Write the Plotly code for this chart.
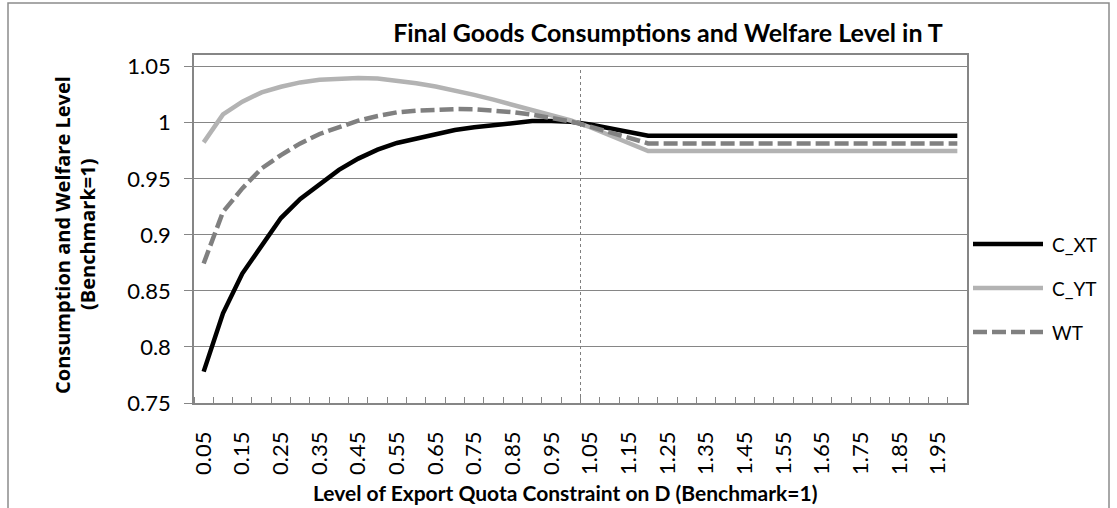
import plotly.graph_objects as go

# ---------------- data ----------------
x_vals = [0.05, 0.10, 0.15, 0.20, 0.25, 0.30, 0.35, 0.40, 0.45, 0.50,
          0.55, 0.60, 0.65, 0.70, 0.75, 0.80, 0.85, 0.90, 0.95, 1.00,
          1.05, 1.10, 1.15, 1.20, 1.25, 1.30, 1.35, 1.40, 1.45, 1.50,
          1.55, 1.60, 1.65, 1.70, 1.75, 1.80, 1.85, 1.90, 1.95, 2.00]

c_xt = [0.778, 0.830, 0.8655, 0.891, 0.915, 0.932, 0.945, 0.958, 0.968, 0.976,
        0.982, 0.986, 0.990, 0.9935, 0.996, 0.998, 1.0005, 1.0015, 1.0015, 1.0008,
        0.9985, 0.9951, 0.9917, 0.9884, 0.9884, 0.9884, 0.9884, 0.9884, 0.9884, 0.9884,
        0.9884, 0.9884, 0.9884, 0.9884, 0.9884, 0.9884, 0.9884, 0.9884, 0.9884, 0.9884]

c_yt = [0.9825, 1.0075, 1.0188, 1.0271, 1.0321, 1.036, 1.0384, 1.0396, 1.0400, 1.0395,
        1.0378, 1.0353, 1.0323, 1.0288, 1.0249, 1.0206, 1.0158, 1.011, 1.0065, 1.002,
        0.996, 0.9889, 0.9818, 0.9747, 0.9747, 0.9747, 0.9747, 0.9747, 0.9747, 0.9747,
        0.9747, 0.9747, 0.9747, 0.9747, 0.9747, 0.9747, 0.9747, 0.9747, 0.9747, 0.9747]

wt = [0.8745, 0.9205, 0.9414, 0.9593, 0.9712, 0.9816, 0.990, 0.9964, 1.0018, 1.006,
      1.0093, 1.0108, 1.0118, 1.0122, 1.012, 1.0112, 1.0095, 1.0072, 1.0045, 1.0012,
      0.9965, 0.9915, 0.9865, 0.9816, 0.9816, 0.9816, 0.9816, 0.9816, 0.9816, 0.9816,
      0.9816, 0.9816, 0.9816, 0.9816, 0.9816, 0.9816, 0.9816, 0.9816, 0.9816, 0.9816]

tick_vals = [0.05, 0.15, 0.25, 0.35, 0.45, 0.55, 0.65, 0.75, 0.85, 0.95,
             1.05, 1.15, 1.25, 1.35, 1.45, 1.55, 1.65, 1.75, 1.85, 1.95]
tick_text = ["0.05", "0.15", "0.25", "0.35", "0.45", "0.55", "0.65", "0.75", "0.85", "0.95",
             "1.05", "1.15", "1.25", "1.35", "1.45", "1.55", "1.65", "1.75", "1.85", "1.95"]
y_ticks = [0.75, 0.8, 0.85, 0.9, 0.95, 1.0, 1.05]
y_text = ["0.75", "0.8", "0.85", "0.9", "0.95", "1", "1.05"]

series_names = ["C_XT", "C_YT", "WT"]
series_colors = ["#000000", "#B3B3B3", "#808080"]
series_dash = ["solid", "solid", "14px,5px"]

# ---------------- layout geometry ----------------
W, H = 1117, 508
ML, MR, MT, MB = 194, 150, 55, 105
PW, PH = W - ML - MR, H - MT - MB
FONT = "Lato, 'Open Sans', sans-serif"
FONT2 = "'Open Sans', Lato, sans-serif"
GRAY = "#868686"


def px(xp):
    return (xp - ML) / PW


def py(yp):
    return (H - MB - yp) / PH


fig = go.Figure()
for name, vals, col, dash in zip(series_names, [c_xt, c_yt, wt], series_colors, series_dash):
    fig.add_trace(go.Scatter(x=x_vals, y=vals, mode="lines", name=name,
                             line=dict(color=col, width=4.5, dash=dash),
                             showlegend=False))

shapes = []
# reference dotted line between 1.00 and 1.05
shapes.append(dict(type="line", xref="x", yref="y", x0=1.025, x1=1.025, y0=0.75, y1=1.05,
                   line=dict(color="#7f7f7f", width=1, dash="dot")))
# chart border
shapes.append(dict(type="rect", xref="paper", yref="paper",
                   x0=px(8), x1=px(1109), y0=py(560), y1=py(3),
                   line=dict(color="#8c8c8c", width=1.5), fillcolor="rgba(0,0,0,0)"))

annotations = []
# manual legend
for name, col, dash, yy in zip(series_names, series_colors, series_dash, [244, 288, 332]):
    shapes.append(dict(type="line", xref="paper", yref="paper",
                       x0=px(973), x1=px(1043), y0=py(yy), y1=py(yy),
                       line=dict(color=col, width=4.5, dash=dash)))
    annotations.append(dict(text=name, xref="paper", yref="paper", x=px(1050), y=py(yy),
                            xanchor="left", yanchor="middle", showarrow=False,
                            font=dict(family=FONT, size=19, color="#000000")))

annotations.append(dict(text="<b>Level of Export Quota Constraint on D (Benchmark=1)</b>",
                        xref="paper", yref="paper", x=px(565), y=py(492),
                        xanchor="center", yanchor="middle", showarrow=False,
                        font=dict(family=FONT, size=21, color="#000000")))
for txt, xx in [("<b>Consumption and Welfare Level</b>", 63), ("<b>(Benchmark=1)</b>", 88)]:
    annotations.append(dict(text=txt, xref="paper", yref="paper", x=px(xx), y=py(235),
                            xanchor="center", yanchor="middle", showarrow=False, textangle=-90,
                            font=dict(family=FONT2, size=20, color="#000000")))

fig.update_layout(
    width=W, height=H,
    margin=dict(l=ML, r=MR, t=MT, b=MB),
    paper_bgcolor="white", plot_bgcolor="white",
    title=dict(text="<b>Final Goods Consumptions and Welfare Level in T</b>",
               x=668 / W, xref="container", xanchor="center",
               y=1 - 33 / H, yref="container", yanchor="middle",
               font=dict(family=FONT, size=25, color="#000000")),
    shapes=shapes, annotations=annotations,
    xaxis=dict(range=[0.025, 2.025], tickmode="array", tickvals=tick_vals, ticktext=tick_text,
               tickangle=-90, ticks="", showgrid=False, zeroline=False,
               showline=True, linecolor=GRAY, linewidth=1.5, mirror=True,
               ticklabelstandoff=18,
               tickfont=dict(family=FONT, size=22, color="#000000"),
               minor=dict(ticks="inside", tick0=0.025, dtick=0.05, ticklen=6,
                          tickcolor=GRAY, tickwidth=1, showgrid=False)),
    yaxis=dict(range=[0.75, 1.06044], tickmode="array", tickvals=y_ticks, ticktext=y_text,
               ticks="outside", ticklen=8, tickcolor=GRAY, tickwidth=1,
               showgrid=True, gridcolor=GRAY, gridwidth=1, zeroline=False,
               showline=True, linecolor=GRAY, linewidth=1.5, mirror=True,
               ticklabelstandoff=9,
               tickfont=dict(family=FONT, size=22, color="#000000")),
)

fig.write_html("out.html", config={"displayModeBar": False},
               post_script="document.body.style.margin='0px';document.body.style.overflow='hidden';")
